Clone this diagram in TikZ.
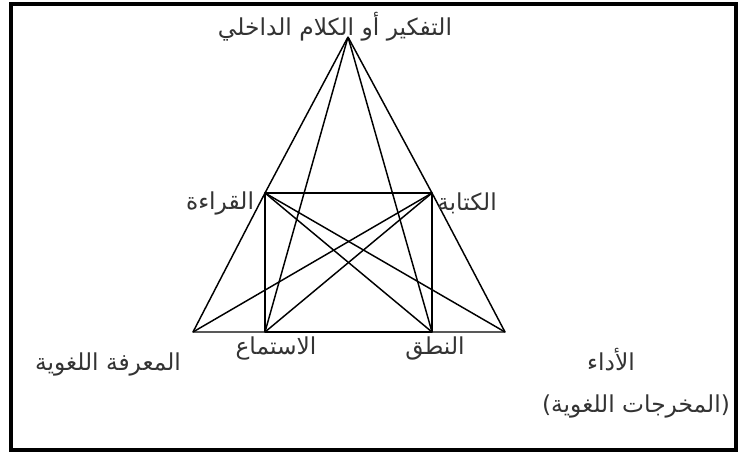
\documentclass[tikz,border=0pt]{standalone}
\usepackage{fontspec}
\newfontfamily\arabicfont[Script=Arabic]{DejaVu Sans}
\TeXXeTstate=1
\usetikzlibrary{positioning}
\tikzset{
  edge/.style  = {draw, line width=1.1pt, line join=round},
  frame/.style = {draw, line width=2.6pt},
  lbl/.style   = {inner sep=0pt, text=black!80, font=\arabicfont\fontsize{17.5}{20}\selectfont}
}

\begin{document}
\begin{tikzpicture}[x=0.75pt, y=-0.75pt]
  \useasboundingbox (0,0) rectangle (739,454);
  \draw[frame] (11,4) rectangle (736,450);
  % corners of the figure
  \coordinate (top)    at (348,37);
  \coordinate (read)   at (265,193);
  \coordinate (write)  at (432,193);
  \coordinate (bl)     at (193,332);
  \coordinate (listen) at (265,332);
  \coordinate (speak)  at (432,332);
  \coordinate (br)     at (505,332);
  % outer triangle and box
  \draw[edge] (top) -- (read) -- (bl) -- (br) -- (write) -- (top);
  \draw[edge] (read) -- (write) -- (speak) -- (listen) -- cycle;
  \draw[edge] (top) -- (listen);
  \draw[edge] (top) -- (speak);
  % crossing lines
  \draw[edge] (read) -- (speak);
  \draw[edge] (read) -- (br);
  \draw[edge] (write) -- (listen);
  \draw[edge] (write) -- (bl);
  % labels
  \node[lbl] (thinkLbl)  at (335,27)  {\beginR التفكير أو الكلام الداخلي\endR};
  \node[lbl] (readLbl)   at (220,203) {\beginR القراءة\endR};
  \node[lbl] (writeLbl)  at (467,203) {\beginR الكتابة\endR};
  \node[lbl] (listenLbl) at (276,348) {\beginR الاستماع\endR};
  \node[lbl] (speakLbl)  at (435,348) {\beginR النطق\endR};
  \node[lbl] (knowLbl)   at (108,364) {\beginR المعرفة اللغوية\endR};
  \node[lbl] (perfLbl)   at (611,360) {\beginR الأداء\endR};
  \node[lbl] (outLbl)    at (636,406) {\beginR (المخرجات اللغوية)\endR};
\end{tikzpicture}
\end{document}
